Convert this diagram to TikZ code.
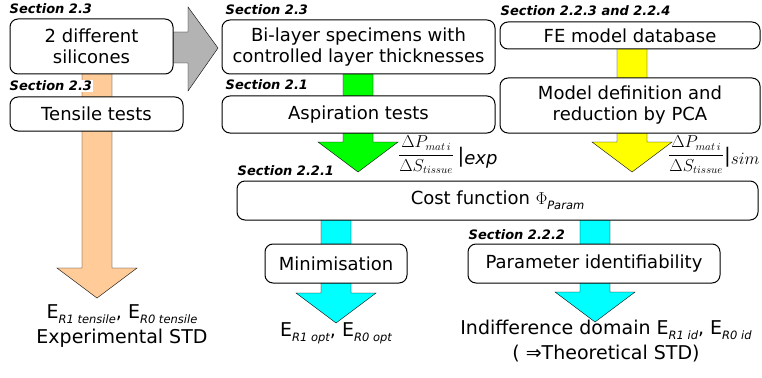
\documentclass[tikz,border=0pt]{standalone}
\usepackage{fontspec}
\setmainfont{DejaVu Sans}
\usetikzlibrary{calc,backgrounds}

\definecolor{peach}{HTML}{FFCC99}
\definecolor{greyarrow}{HTML}{B3B3B3}
\definecolor{limegreen}{HTML}{00FF00}
\definecolor{brightyellow}{HTML}{FFFF00}
\definecolor{brightcyan}{HTML}{00FFFF}

% subscript in sans italic
\newcommand{\lowsub}[1]{\raisebox{-0.5ex}{\fontsize{11.5}{12}\selectfont\itshape #1}}

% fat arrow pointing down, from a box to a tip
\newcommand{\fatdown}[3]{%
  \draw[fill=#1] ($(#3 |- #2.south)+(-15,-3)$) -- ($(#3)+(-15,-30)$) -- ($(#3)+(-40,-30)$)
    -- (#3) -- ($(#3)+(40,-30)$) -- ($(#3)+(15,-30)$) -- ($(#3 |- #2.south)+(15,-3)$) -- cycle;}

\begin{document}
\begin{tikzpicture}[x=1pt, y=-1pt, line width=1pt,
    box/.style={draw, fill=white, rounded corners=8pt, align=center, inner sep=0pt,
      font=\fontsize{18}{21}\selectfont},
    sect/.style={anchor=base west, inner sep=1pt, font=\fontsize{13}{13}\selectfont\bfseries\itshape},
    result/.style={align=center, inner sep=0pt, font=\fontsize{19}{25}\selectfont},
    quant/.style={anchor=west, inner sep=0pt, font=\fontsize{18}{20}\selectfont}]
  \useasboundingbox (0,0) rectangle (762,377);

  % tips of the arrows
  \coordinate (tipGrey) at (218,48);
  \coordinate (tipOrange) at (97,298);
  \coordinate (tipGreen) at (358,172);
  \coordinate (tipYellow) at (632,172);
  \coordinate (tipMin) at (336,323);
  \coordinate (tipId) at (595,322);

  % boxes
  \node[box, minimum width=163, minimum height=55] (silicones) at (91.5,46.5) {2 different\\silicones};
  \node[box, minimum width=173, minimum height=34] (tensile) at (96.5,114) {Tensile tests};
  \node[box, minimum width=273, minimum height=54] (bilayer) at (358.5,47) {Bi-layer specimens with\\controlled layer thicknesses};
  \node[box, minimum width=273, minimum height=37] (aspiration) at (358.5,114.5) {Aspiration tests};
  \node[box, minimum width=260, minimum height=27] (fedb) at (630,35.5) {FE model database};
  \node[box, minimum width=260, minimum height=55] (modeldef) at (630,105.5) {Model definition and\\reduction by PCA};
  \node[box, minimum width=521, minimum height=39] (cost) at (497.5,200.5) {Cost function $\Phi$\lowsub{Param}};
  \node[box, minimum width=142, minimum height=39] (minim) at (336,263.5) {Minimisation};
  \node[box, minimum width=252, minimum height=39] (paramid) at (594,263.5) {Parameter identifiability};

  % fat arrows, behind the boxes
  \begin{pgfonlayer}{background}
    \draw[fill=greyarrow] ($(silicones.east |- tipGrey)+(-10,-16)$) -- ($(tipGrey)+(-30,-16)$) -- ($(tipGrey)+(-30,-41)$)
      -- (tipGrey) -- ($(tipGrey)+(-30,43)$) -- ($(tipGrey)+(-30,15)$) -- ($(silicones.east |- tipGrey)+(-10,15)$) -- cycle;
    \fatdown{peach}{silicones}{tipOrange}
    \fatdown{limegreen}{bilayer}{tipGreen}
    \fatdown{brightyellow}{fedb}{tipYellow}
    \fatdown{brightcyan}{cost}{tipMin}
    \fatdown{brightcyan}{cost}{tipId}
  \end{pgfonlayer}

  % section labels
  \node[sect] (sSil) at ($(silicones.north west)+(-1,-5)$) {Section 2.3};
  \node[sect, fill=white] (sTen) at ($(tensile.north west)+(-1,-6)$) {Section 2.3};
  \node[sect] (sBil) at ($(bilayer.north west)+(3,-5)$) {Section 2.3};
  \node[sect] (sAsp) at ($(aspiration.north west)+(3,-6)$) {Section 2.1};
  \node[sect] (sFe) at ($(fedb.north west)+(0,-6)$) {Section 2.2.3 and 2.2.4};
  \node[sect] (sCost) at ($(cost.north west)+(0,-5)$) {Section 2.2.1};
  \node[sect] (sId) at ($(paramid.north west)+(0,-4)$) {Section 2.2.2};

  % measured quantities
  \node[quant] (qExp) at (398,155)
    {\fontsize{16}{18}\selectfont$\displaystyle\frac{\Delta P_{mat\,i}}{\Delta S_{tissue}}$%
     \fontsize{20}{20}\selectfont\,\raisebox{-0.3ex}{|}\fontsize{18}{20}\selectfont\raisebox{-0.55ex}{\itshape exp}};
  \node[quant] (qSim) at (668,155)
    {\fontsize{16}{18}\selectfont$\displaystyle\frac{\Delta P_{mat\,i}}{\Delta S_{tissue}}$%
     \fontsize{20}{20}\selectfont\raisebox{-0.3ex}{|}\fontsize{17}{20}\selectfont\raisebox{-0.55ex}{$sim$}};

  % results
  \node[result] (resTen) at (122,326) {E\lowsub{R1 tensile}, E\lowsub{R0 tensile}\\Experimental STD};
  \node[result] (resMin) at (336,333) {E\lowsub{R1 opt}, E\lowsub{R0 opt}};
  \node[result] (resId) at (606,341) {Indifference domain E\lowsub{R1 id}, E\lowsub{R0 id}\\( ⇒Theoretical STD)};
\end{tikzpicture}
\end{document}
